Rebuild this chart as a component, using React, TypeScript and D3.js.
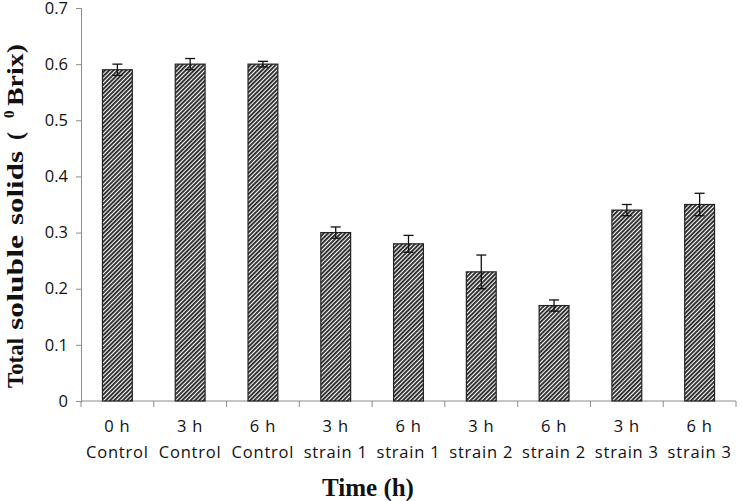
import * as d3 from "d3";
import { useEffect, useRef } from "react";

const times = ["0 h", "3 h", "6 h", "3 h", "6 h", "3 h", "6 h", "3 h", "6 h"];
const groups = ["Control", "Control", "Control", "strain 1", "strain 1", "strain 2", "strain 2", "strain 3", "strain 3"];
const values = [0.59, 0.6, 0.6, 0.3, 0.28, 0.23, 0.17, 0.34, 0.35];
const errors = [0.01, 0.01, 0.005, 0.01, 0.015, 0.03, 0.01, 0.01, 0.02];
const yTicks = [0, 0.1, 0.2, 0.3, 0.4, 0.5, 0.6, 0.7];

export default function App() {
  const ref = useRef<SVGSVGElement>(null);

  useEffect(() => {
    if (!ref.current) return;
    const svg = d3.select(ref.current);
    svg.selectAll("*").remove();

    const W = 742;
    const H = 501;
    const margin = { top: 8, right: 6, bottom: 100, left: 81 };
    const keys = times.map((t, i) => `${t}|${groups[i]}`);

    const x = d3.scaleBand().domain(keys).range([margin.left, W - margin.right]).paddingInner(0.59).paddingOuter(0.295);
    const xb = d3.scaleBand().domain(keys).range([margin.left, W - margin.right]);
    const y = d3.scaleLinear().domain([0, 0.7]).range([H - margin.bottom, margin.top]);

    // hatch pattern (diagonal "/")
    const defs = svg.append("defs");
    const pat = defs
      .append("pattern")
      .attr("id", "hatch")
      .attr("patternUnits", "userSpaceOnUse")
      .attr("width", 3)
      .attr("height", 3)
      .attr("patternTransform", "rotate(45)");
    pat.append("rect").attr("width", 3).attr("height", 3).attr("fill", "#fff");
    pat.append("rect").attr("x", 0).attr("width", 1.9).attr("height", 3).attr("fill", "#2a2a2a");

    const gray = "#8c8c8c";

    // y axis
    const yAxis = svg
      .append("g")
      .attr("transform", `translate(${margin.left},0)`)
      .call(d3.axisLeft(y).tickValues(yTicks).tickSize(5).tickPadding(8).tickFormat((d) => (d === 0 ? "0" : d3.format(".1f")(d as number))));
    yAxis.select(".domain").attr("stroke", gray);
    yAxis.selectAll(".tick line").attr("stroke", gray);
    yAxis
      .selectAll(".tick text")
      .attr("font-family", "Open Sans, sans-serif")
      .attr("font-size", 16.5)
      .attr("fill", "#111");

    // x axis line and category ticks
    const base = y(0);
    svg
      .append("line")
      .attr("x1", margin.left)
      .attr("x2", W - margin.right)
      .attr("y1", base)
      .attr("y2", base)
      .attr("stroke", gray);
    const bounds = [...keys.map((k) => xb(k)!), xb(keys[keys.length - 1])! + xb.bandwidth()];
    svg
      .selectAll(".xtick")
      .data(bounds)
      .enter()
      .append("line")
      .attr("x1", (d) => d)
      .attr("x2", (d) => d)
      .attr("y1", base)
      .attr("y2", base + 6)
      .attr("stroke", gray);

    // bars
    svg
      .selectAll(".bar")
      .data(values)
      .enter()
      .append("rect")
      .attr("x", (_, i) => x(keys[i])!)
      .attr("y", (d) => y(d))
      .attr("width", x.bandwidth())
      .attr("height", (d) => base - y(d))
      .attr("fill", "url(#hatch)")
      .attr("stroke", "#222")
      .attr("stroke-width", 1.2);

    // error bars
    const eg = svg.append("g").attr("stroke", "#111").attr("stroke-width", 1.3);
    values.forEach((v, i) => {
      const cx = x(keys[i])! + x.bandwidth() / 2;
      const lo = y(v - errors[i]);
      const hi = y(v + errors[i]);
      eg.append("line").attr("x1", cx).attr("x2", cx).attr("y1", lo).attr("y2", hi);
      eg.append("line").attr("x1", cx - 5).attr("x2", cx + 5).attr("y1", lo).attr("y2", lo);
      eg.append("line").attr("x1", cx - 5).attr("x2", cx + 5).attr("y1", hi).attr("y2", hi);
    });

    // x labels
    const lab = svg
      .selectAll(".xlab")
      .data(keys)
      .enter()
      .append("text")
      .attr("text-anchor", "middle")
      .attr("font-family", "Open Sans, sans-serif")
      .attr("font-size", 16.5)
      .attr("letter-spacing", 0.8)
      .attr("fill", "#111");
    lab
      .append("tspan")
      .attr("x", (d) => xb(d)! + xb.bandwidth() / 2)
      .attr("y", base + 31)
      .text((_, i) => times[i]);
    lab
      .append("tspan")
      .attr("x", (d) => xb(d)! + xb.bandwidth() / 2)
      .attr("y", base + 57)
      .text((_, i) => groups[i]);

    // x title
    svg
      .append("text")
      .attr("x", 368)
      .attr("y", H - 5)
      .attr("text-anchor", "middle")
      .attr("font-family", "Liberation Serif, serif")
      .attr("font-weight", "bold")
      .attr("font-size", 25)
      .attr("fill", "#111")
      .text("Time (h)");

    // y title, word by word along the axis (bottom to top)
    const words: [string, number, number][] = [
      ["Total", 388, 50],
      ["soluble", 330, 95],
      ["solids", 225, 74],
      ["(", 140, 8],
    ];
    const yg = svg
      .append("g")
      .attr("transform", "translate(23,0) rotate(-90)")
      .attr("font-family", "Liberation Serif, serif")
      .attr("font-weight", "bold")
      .attr("font-size", 23)
      .attr("fill", "#111");
    words.forEach(([w, start, len]) => {
      yg.append("text")
        .attr("x", -start)
        .attr("y", 0)
        .attr("textLength", len)
        .attr("lengthAdjust", "spacingAndGlyphs")
        .text(w);
    });
    yg.append("text").attr("x", -118).attr("y", -9).attr("font-size", 15).text("0");
    yg.append("text")
      .attr("x", -106)
      .attr("y", 0)
      .attr("textLength", 62)
      .attr("lengthAdjust", "spacingAndGlyphs")
      .text("Brix)");
  }, []);

  return (
    <div style={{ position: "absolute", left: 0, top: 0 }}>
      <svg ref={ref} width={742} height={501} style={{ display: "block", background: "#fff" }}></svg>
    </div>
  );
}
